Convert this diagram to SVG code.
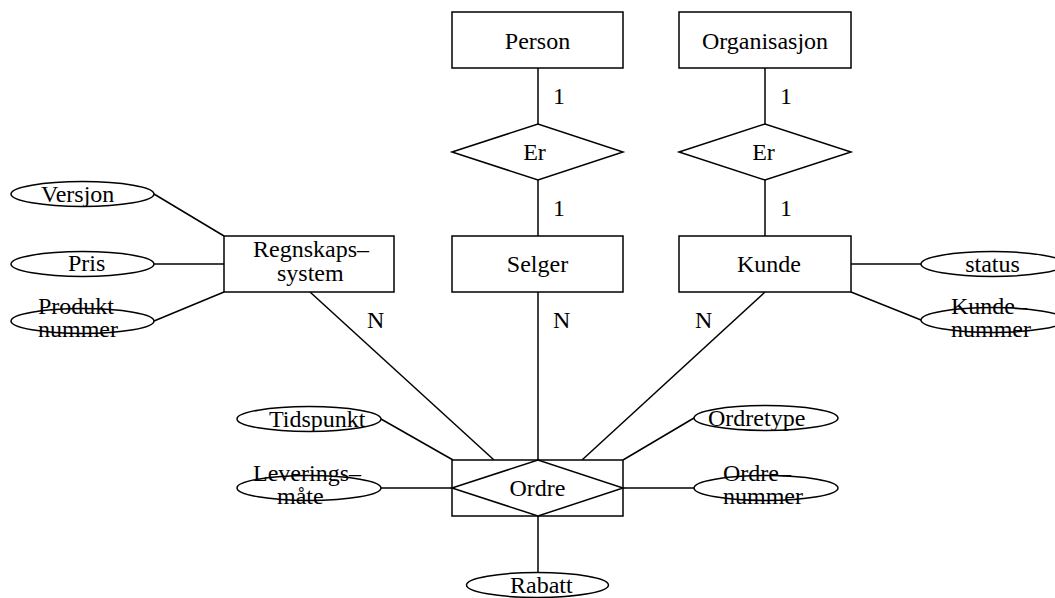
<svg xmlns="http://www.w3.org/2000/svg" width="1055" height="598" viewBox="0 0 1055 598" font-family="'Liberation Serif', 'Times New Roman', Times, serif" font-size="24">
  <style>
    .shape { fill: #fff; stroke: #000; stroke-width: 1.5; }
    .edge { stroke: #000; stroke-width: 1.5; fill: none; }
    text { font-family: 'Liberation Serif', 'Times New Roman', Times, serif; font-size: 24px; fill: #000; }
    .c { text-anchor: middle; }
  </style>
  <rect width="1055" height="598" fill="#fff"/>

  <!-- connectors -->
  <g id="connectors">
    <line class="edge" x1="538" y1="68" x2="538" y2="124"/>
    <line class="edge" x1="538" y1="180" x2="538" y2="236"/>
    <line class="edge" x1="765" y1="68" x2="765" y2="124"/>
    <line class="edge" x1="765" y1="180" x2="765" y2="236"/>
    <line class="edge" x1="154" y1="194" x2="224" y2="236"/>
    <line class="edge" x1="154" y1="264" x2="224" y2="264"/>
    <line class="edge" x1="154" y1="321" x2="224" y2="292"/>
    <line class="edge" x1="851" y1="264" x2="921" y2="264"/>
    <line class="edge" x1="851" y1="292" x2="921" y2="320"/>
    <line class="edge" x1="310" y1="292" x2="494" y2="460"/>
    <line class="edge" x1="538" y1="292" x2="538" y2="460"/>
    <line class="edge" x1="765" y1="292" x2="582" y2="460"/>
    <line class="edge" x1="381" y1="419" x2="453" y2="460"/>
    <line class="edge" x1="381" y1="488" x2="453" y2="488"/>
    <line class="edge" x1="694" y1="418" x2="623" y2="460"/>
    <line class="edge" x1="623" y1="488" x2="694" y2="488"/>
    <line class="edge" x1="538" y1="516" x2="538" y2="572"/>
    <!-- cardinalities -->
    <text x="553" y="104">1</text>
    <text x="553" y="216">1</text>
    <text x="780" y="104">1</text>
    <text x="780" y="216">1</text>
    <text x="367" y="328">N</text>
    <text x="553" y="328">N</text>
    <text x="695" y="328">N</text>
  </g>

  <!-- entities -->
  <g id="person">
    <rect class="shape" x="452" y="12" width="171" height="56"/>
    <text x="537.5" y="49" class="c">Person</text>
  </g>
  <g id="organisasjon">
    <rect class="shape" x="679" y="12" width="172" height="56"/>
    <text x="765" y="49" class="c">Organisasjon</text>
  </g>
  <g id="er-person">
    <polygon class="shape" points="452,152 538,124 623,152 538,180"/>
    <text x="534.5" y="160" class="c">Er</text>
  </g>
  <g id="er-organisasjon">
    <polygon class="shape" points="679,152 765,124 851,152 765,180"/>
    <text x="763.5" y="160" class="c">Er</text>
  </g>
  <g id="regnskapssystem">
    <rect class="shape" x="224" y="236" width="170" height="56"/>
    <text x="253" y="257">Regnskaps–</text>
    <text x="277" y="281">system</text>
  </g>
  <g id="selger">
    <rect class="shape" x="452" y="236" width="171" height="56"/>
    <text x="537.5" y="272" class="c">Selger</text>
  </g>
  <g id="kunde">
    <rect class="shape" x="679" y="236" width="172" height="56"/>
    <text x="769" y="272" class="c">Kunde</text>
  </g>

  <!-- attributes of Regnskapssystem -->
  <g id="versjon">
    <ellipse class="shape" cx="82.5" cy="194" rx="71.5" ry="12.5"/>
    <text x="41" y="202">Versjon</text>
  </g>
  <g id="pris">
    <ellipse class="shape" cx="82.5" cy="264" rx="71.5" ry="12.5"/>
    <text x="68" y="271">Pris</text>
  </g>
  <g id="produktnummer">
    <ellipse class="shape" cx="82.5" cy="321" rx="71.5" ry="12.5"/>
    <text x="38" y="314">Produkt</text>
    <text x="38" y="337">nummer</text>
  </g>

  <!-- attributes of Kunde -->
  <g id="status">
    <ellipse class="shape" cx="992.5" cy="264" rx="71.5" ry="12.5"/>
    <text x="992.5" y="272" class="c">status</text>
  </g>
  <g id="kundenummer">
    <ellipse class="shape" cx="992.5" cy="320" rx="71.5" ry="12.5"/>
    <text x="951" y="314">Kunde–</text>
    <text x="951" y="337">nummer</text>
  </g>

  <!-- Ordre: associative entity -->
  <g id="ordre">
    <rect class="shape" x="452" y="460" width="171" height="56"/>
    <polygon class="shape" points="452,488 538,460 623,488 538,516"/>
    <text x="537.5" y="496" class="c">Ordre</text>
  </g>
  <g id="tidspunkt">
    <ellipse class="shape" cx="309" cy="419" rx="72" ry="12.5"/>
    <text x="269" y="427">Tidspunkt</text>
  </g>
  <g id="leveringsmate">
    <ellipse class="shape" cx="309" cy="488" rx="72" ry="12.5"/>
    <text x="253" y="481">Leverings–</text>
    <text x="277" y="504">måte</text>
  </g>
  <g id="ordretype">
    <ellipse class="shape" cx="766" cy="418" rx="72" ry="12.5"/>
    <text x="708" y="426">Ordretype</text>
  </g>
  <g id="ordrenummer">
    <ellipse class="shape" cx="766" cy="488" rx="72" ry="12.5"/>
    <text x="723" y="481">Ordre–</text>
    <text x="723" y="504">nummer</text>
  </g>
  <g id="rabatt">
    <ellipse class="shape" cx="537.5" cy="585" rx="71" ry="12.5"/>
    <text x="510" y="593">Rabatt</text>
  </g>
</svg>
